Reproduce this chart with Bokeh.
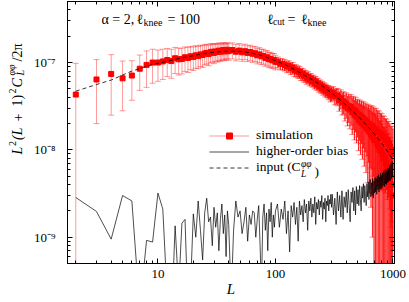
import numpy as np
from bokeh.plotting import figure
from bokeh.layouts import row
from bokeh.models import (LogAxis, LogTicker, CustomJSTickFormatter, Label,
                          Legend, LegendItem, ColumnDataSource)
from bokeh.embed import file_html
from bokeh.resources import INLINE

# ---------------- data ----------------
# simulation: L, L^2(L+1)^2 C_L/2pi  [units 1e-8], 1-sigma error [units 1e-8]
sim_L = (list(range(2, 41)) + list(range(43, 101, 3)) + list(range(105, 301, 5))
         + list(range(310, 1001, 10)))
sim_val = [4.3, 6.4, 7.4, 6.6, 7.1, 8.5, 9.4, 10.0, 10.0,
           10.3, 10.7, 10.4, 11.2, 10.9, 11.0, 11.5, 11.3, 11.8, 11.6,
           12.1, 11.9, 12.4, 12.2, 12.7, 12.9, 12.5, 13.1, 13.3, 12.9,
           13.4, 13.2, 13.7, 13.3, 13.6, 13.9, 13.4, 13.7, 14.0, 13.5,
           13.9, 13.3, 13.7, 13.1, 13.5, 12.9, 13.2, 12.6, 12.8, 12.1,
           12.4, 11.8, 11.9, 11.3, 11.5, 10.9, 11.0, 10.6, 10.7, 10.2,
           10.1, 9.7, 9.6, 9.4, 9.0, 9.1, 8.6, 8.7, 8.2, 8.1,
           7.9, 7.8, 7.4, 7.4, 7.1, 7.0, 6.7, 6.8, 6.4, 6.5,
           6.2, 6.2, 5.9, 6.0, 5.7, 5.7, 5.4, 5.5, 5.2, 5.3,
           5.0, 5.1, 4.8, 4.9, 4.7, 4.7, 4.5, 4.6, 4.3, 4.4,
           4.5, 4.1, 4.2, 4.1, 3.7, 3.9, 3.5, 3.6, 3.2, 3.4,
           3.0, 3.2, 2.9, 3.1, 2.7, 2.9, 2.5, 2.8, 2.4, 2.6,
           2.2, 2.5, 2.1, 2.4, 2.0, 2.3, 1.9, 2.2, 1.8, 2.1,
           1.7, 2.0, 1.6, 1.9, 1.5, 1.9, 1.4, 1.8, 1.3, 1.7,
           1.3, 1.7, 1.2, 1.6, 1.1, 1.6, 1.0, 1.5, 1.0, 1.5,
           0.9, 1.4, 0.8, 1.4, 0.8, 1.3, 0.7, 1.3, 0.6, 1.2,
           0.6, 1.2, 0.5, 1.1, 0.5, 1.0, 0.4, 1.0, 0.3, 0.9]
sim_err = [5.5, 4.4, 4.9, 3.8, 3.4, 3.7, 4.2, 4.2, 3.9,
           3.9, 3.8, 3.8, 3.7, 3.7, 3.6, 3.6, 3.6, 3.5, 3.5,
           3.5, 3.4, 3.4, 3.4, 3.3, 3.3, 3.3, 3.2, 3.2, 3.2,
           3.1, 3.1, 3.1, 3.0, 3.0, 3.0, 2.9, 2.9, 2.9, 2.9,
           2.9, 2.85, 2.8, 2.75, 2.7, 2.65, 2.6, 2.55, 2.5, 2.45,
           2.4, 2.35, 2.3, 2.25, 2.2, 2.15, 2.1, 2.05, 2.0, 1.95,
           1.45, 1.43, 1.41, 1.39, 1.37, 1.35, 1.33, 1.31, 1.29, 1.27,
           1.25, 1.22, 1.19, 1.16, 1.13, 1.1, 1.07, 1.04, 1.01, 0.98,
           0.96, 0.94, 0.92, 0.9, 0.88, 0.86, 0.84, 0.82, 0.8, 0.79,
           0.78, 0.77, 0.76, 0.75, 0.75, 0.75, 0.75, 0.75, 0.76, 0.78,
           0.8, 0.83, 0.86, 0.9, 0.93, 0.97, 1.0, 1.03, 1.06, 1.1,
           1.12, 1.14, 1.16, 1.18, 1.2, 1.2, 1.2, 1.2, 1.2, 1.2,
           1.22, 1.22, 1.22, 1.22, 1.22, 1.25, 1.25, 1.25, 1.25, 1.25,
           1.28, 1.28, 1.28, 1.28, 1.28, 1.3, 1.3, 1.3, 1.3, 1.3,
           1.28, 1.26, 1.24, 1.22, 1.2, 1.18, 1.16, 1.14, 1.12, 1.1,
           1.08, 1.06, 1.04, 1.02, 1.0, 0.98, 0.96, 0.95, 0.94, 0.93,
           0.92, 0.91, 0.9, 0.89, 0.88, 0.87, 0.86, 0.85, 0.84, 0.83]

# higher-order bias [units 1e-9]
bias_L = (list(range(2, 41)) + list(range(42, 101, 2)) + list(range(104, 301, 4))
          + list(range(304, 1001, 8)))
bias_val = [2.85, 1.97, 0.95, 3.0, 2.6, 0.15, 0.92, 0.88, 3.2, 2.1,
            0.2, 0.1, 1.35, 0.25, 1.45, 1.6, 0.15, 0.3, 1.85, 1.0,
            2.6, 1.2, 0.55, 1.9, 2.8, 1.5, 1.7, 0.8, 2.2, 1.3,
            1.9, 0.7, 1.6, 2.4, 1.1, 1.8, 0.6, 2.0, 1.4,
            0.2, 1.2, 2.6, 1.7, 2.0, 1.1, 1.5, 2.2, 0.9, 1.8,
            1.4, 2.0, 1.9, 1.0, 1.6, 2.3, 0.8, 0.25, 1.7, 2.4,
            1.2, 1.9, 0.7, 2.1, 1.5, 2.5, 1.0, 1.8, 1.3, 2.0,
            2.4, 1.3, 2.1, 1.6, 2.6, 1.1, 2.0, 0.68, 2.3, 1.7,
            2.5, 1.4, 2.2, 0.9, 2.6, 1.8, 2.3, 1.5, 2.7, 1.9,
            2.4, 1.2, 2.6, 2.0, 2.8, 1.7, 2.4, 1.9, 2.9, 1.4,
            2.5, 2.1, 2.7, 1.8, 2.6, 2.2, 3.0, 1.6, 2.5, 2.1,
            2.8, 1.5, 2.6, 2.3, 3.0, 2.0, 2.7, 2.4, 3.1, 2.2,
            3.1, 1.8, 2.8, 1.4, 3.3, 2.0, 3.0, 1.7, 3.4, 1.6, 2.9, 2.2, 3.3,
            1.9, 3.5, 2.3, 1.5, 3.3, 2.5, 3.7, 2.0, 3.4, 1.8, 3.8, 2.4, 3.5,
            2.3, 3.9, 2.7, 2.0, 3.8, 2.8, 4.1, 2.5, 3.9, 2.9, 2.3, 4.1,
            2.9, 4.3, 2.7, 4.0, 4.6, 2.9, 4.2, 3.0, 4.7, 2.8, 4.4, 3.2, 4.8,
            3.3, 4.7, 3.1, 5.0, 3.5, 5.2, 3.3, 4.9, 3.6, 5.4, 3.5, 5.1,
            3.7, 5.5, 3.9, 5.2, 5.8, 3.8, 5.4, 4.1, 6.0, 4.0, 5.7, 4.2, 6.2,
            4.3, 6.1, 4.5, 6.6, 4.4, 6.3, 7.0, 4.7, 6.7, 7.4, 5.0, 7.1]

# input lensing spectrum [units 1e-8]
inp_L = [2, 3, 4, 5, 6, 7, 8, 10, 13, 16, 20, 25, 30, 35, 40, 50, 60, 70, 80, 100,
         120, 150, 200, 250, 300, 400, 500, 600, 700, 800, 900, 1000]
inp_val = [4.7, 5.6, 6.3, 7.2, 8.0, 8.5, 9.1, 9.8, 10.6, 11.3, 12.0, 12.7, 13.1, 13.4,
           13.5, 13.4, 13.0, 12.4, 11.8, 10.5, 9.5, 8.1, 6.5, 5.4, 4.5, 3.25, 2.45,
           1.9, 1.5, 1.2, 0.95, 0.77]

x_limits = (1.7, 1030)
y_limits = (5e-10, 5e-7)
DENSE_FROM = 100   # above this L the error bars overlap into a solid band

# ---------------- derived ----------------
sL = np.array(sim_L)
sv = np.array(sim_val) * 1e-8
se = np.array(sim_err) * 1e-8
lo_all = np.maximum(sv - se, 1e-13)
m_sparse = sL <= DENSE_FROM
m_dense = ~m_sparse
src_sparse = ColumnDataSource(dict(L=sL[m_sparse], v=sv[m_sparse],
                                   hi=(sv + se)[m_sparse], lo=lo_all[m_sparse]))
src_dense = ColumnDataSource(dict(L=sL[m_dense], v=sv[m_dense],
                                  hi=(sv + se)[m_dense], lo=lo_all[m_dense]))
bias_src = ColumnDataSource(dict(L=bias_L, v=np.array(bias_val) * 1e-9))
inp_src = ColumnDataSource(dict(L=inp_L, v=np.array(inp_val) * 1e-8))

FONT = "Liberation Serif"
LAB_W = 30          # width of the strip holding the y-axis label
TOTAL_W, TOTAL_H = 409, 302

# ---------------- y-label strip ----------------
p_lab = figure(width=LAB_W, height=TOTAL_H, x_range=(0, 1), y_range=(0, 1),
               output_backend="svg", toolbar_location=None,
               x_axis_location=None, y_axis_location=None,
               min_border=0, outline_line_color=None)
p_lab.grid.visible = False
p_lab.background_fill_color = "white"
p_lab.border_fill_color = "white"

# ---------------- main figure ----------------
p = figure(width=TOTAL_W - LAB_W, height=TOTAL_H, x_axis_type="log", y_axis_type="log",
           x_range=x_limits, y_range=y_limits,
           output_backend="svg", toolbar_location=None,
           min_border_left=66 - LAB_W, min_border_right=15, min_border_top=1,
           min_border_bottom=39)
p.grid.visible = False
p.outline_line_color = "black"
p.outline_line_alpha = 1.0
p.outline_line_width = 1
p.background_fill_color = "white"
p.border_fill_color = "white"


def style_axis(ax, show_labels=True):
    ax.ticker = LogTicker(num_minor_ticks=10)
    ax.axis_line_color = "black"
    ax.major_tick_line_color = "black"
    ax.minor_tick_line_color = "black"
    ax.major_tick_in = 5
    ax.major_tick_out = 0
    ax.minor_tick_in = 3
    ax.minor_tick_out = 0
    ax.major_label_text_font = FONT
    ax.major_label_text_color = "black"
    ax.major_label_text_font_size = "13px"
    if not show_labels:
        ax.formatter = CustomJSTickFormatter(code="return '';")
        ax.major_label_standoff = 0


xa = p.xaxis[0]
ya = p.yaxis[0]
style_axis(xa)
style_axis(ya)
xa.formatter = CustomJSTickFormatter(code="return tick.toFixed(0);")
xa.major_label_standoff = 6
xa.axis_label = "L"
xa.axis_label_text_font = FONT
xa.axis_label_text_font_style = "italic"
xa.axis_label_text_font_size = "15px"
xa.axis_label_text_color = "black"
xa.axis_label_standoff = 0
ya.formatter = CustomJSTickFormatter(code="""
const e = Math.round(Math.log10(tick));
const sup = {"-": "\u207b", "0": "\u2070", "1": "\u00b9", "2": "\u00b2", "3": "\u00b3",
             "4": "\u2074", "5": "\u2075", "6": "\u2076", "7": "\u2077", "8": "\u2078", "9": "\u2079"};
return "10" + String(e).split("").map(c => sup[c]).join("");
""")
ya.major_label_standoff = 12

top = LogAxis()
style_axis(top, show_labels=False)
p.add_layout(top, "above")
right = LogAxis()
style_axis(right, show_labels=False)
p.add_layout(right, "right")

# ---------------- marks ----------------
for src, a, w, ca in ((src_sparse, 0.4, 1.0, 0.4), (src_dense, 0.85, 1.2, 0.45)):
    seg = p.segment(x0="L", y0="lo", x1="L", y1="hi", source=src,
                    line_color="red", line_alpha=a, line_width=w)
    p.scatter(x="L", y="hi", source=src, marker="dash", size=6,
              line_color="red", line_alpha=ca)
    p.scatter(x="L", y="lo", source=src, marker="dash", size=6,
              line_color="red", line_alpha=ca)
    if src is src_sparse:
        r_bar = seg
r_pt = p.scatter(x="L", y="v", source=src_sparse, marker="square", size=5,
                 fill_color="red", line_color="red")
p.scatter(x="L", y="v", source=src_dense, marker="square", size=5,
          fill_color="red", line_color="red")
r_bias = p.line(x="L", y="v", source=bias_src, line_color="black", line_width=0.7)
r_inp = p.line(x="L", y="v", source=inp_src, line_color="black", line_width=0.8,
               line_dash="4 3")

legend = Legend(items=[LegendItem(label="simulation", renderers=[r_bar, r_pt]),
                       LegendItem(label="higher-order bias", renderers=[r_bias]),
                       LegendItem(label="input (C", renderers=[r_inp])],
                location=(142, 88), orientation="vertical",
                background_fill_alpha=0, border_line_alpha=0,
                glyph_width=40, glyph_height=15, label_height=15, label_width=20,
                spacing=0, padding=0, margin=0, label_standoff=7,
                label_text_font=FONT, label_text_font_size="13.5px",
                label_text_color="black")
p.add_layout(legend)

# ---------------- texts ----------------
FRAME_L, FRAME_B = 66, 263


def put(fig, text, cx, cy, size, style="normal", angle=0.0, align="left",
        left=FRAME_L, bottom=FRAME_B):
    fig.add_layout(Label(x=cx - left, y=bottom - cy, x_units="screen", y_units="screen",
                         text=text, text_font=FONT, text_font_size=f"{size}px",
                         text_font_style=style, text_color="black", angle=angle,
                         text_align=align, text_baseline="alphabetic"))


# title texts inside the frame
put(p, "\u03b1 = 2,", 100, 18.5, 14)
put(p, "\u2113", 135, 18.5, 14)
put(p, "knee", 142, 21.5, 10)
put(p, "= 100", 166, 18.5, 14)
put(p, "\u2113", 265.5, 18.5, 14)
put(p, "cut", 271.5, 21.5, 9.5)
put(p, "=", 286, 18.5, 14)
put(p, "\u2113", 299.5, 18.5, 14)
put(p, "knee", 306, 21.5, 10)

# legend math remainder: C_L^{phi phi})
put(p, "\u03c6\u03c6", 299.5, 163.5, 9.5, "italic")
put(p, "L", 299.5, 173, 9.5, "italic")
put(p, ")", 313, 171, 13.5)

# y axis label (rotated), drawn in the left strip
A = np.pi / 2
for text, cx, cy, size, style in (("L", 17, 193, 14, "italic"),
                                  ("2", 11.5, 184.5, 10, "normal"),
                                  ("(L", 17, 178.5, 14, "italic"),
                                  ("+", 17, 160, 14, "normal"),
                                  ("1)", 17, 145, 14, "normal"),
                                  ("2", 11.5, 132, 10, "normal"),
                                  ("C", 17, 126, 14, "italic"),
                                  ("\u03c6\u03c6", 11, 114, 10, "italic"),
                                  ("L", 20, 114, 10, "italic"),
                                  ("/2\u03c0", 17, 100, 14, "normal")):
    put(p_lab, text, cx, cy, size, style, A, left=0, bottom=TOTAL_H)

layout = row(p_lab, p)
open("out.html", "w").write(file_html(layout, INLINE))
